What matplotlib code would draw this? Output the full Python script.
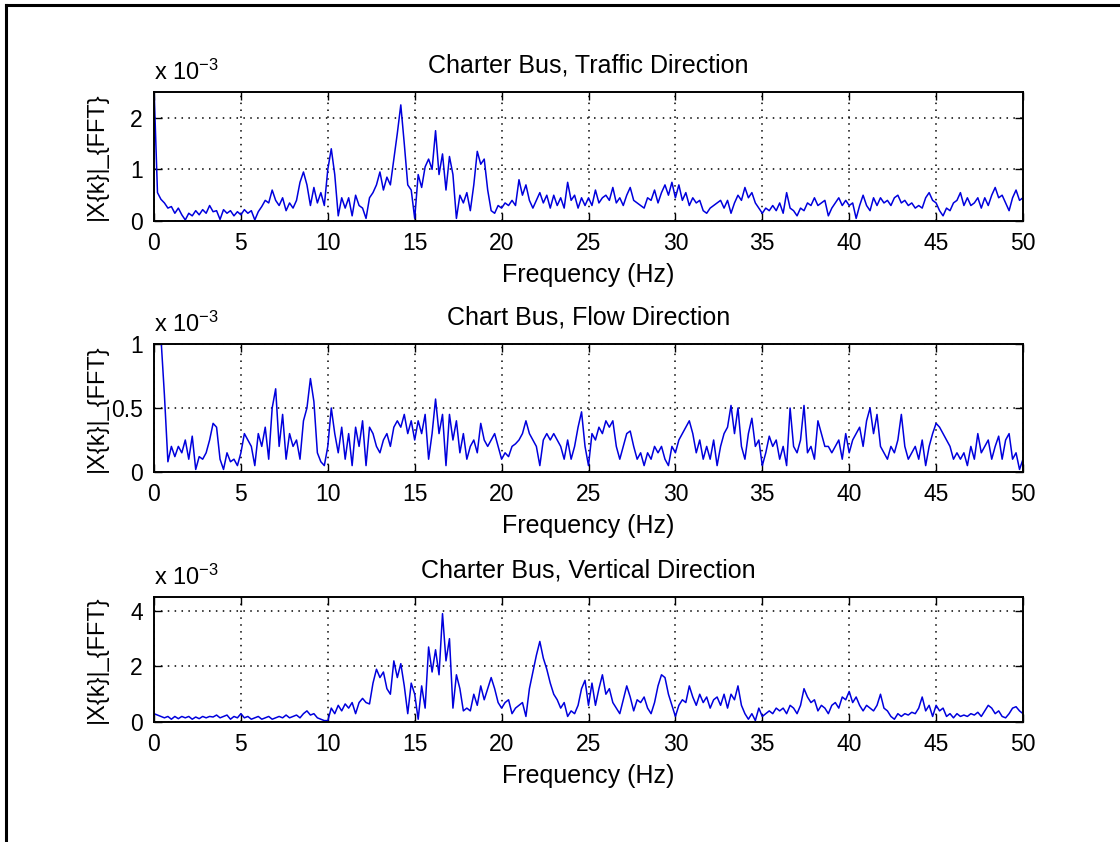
import numpy as np
import matplotlib
matplotlib.use("Agg")
import matplotlib.pyplot as plt
from matplotlib.lines import Line2D

plt.rcParams['font.family'] = ['Liberation Sans', 'DejaVu Sans']
plt.rcParams['mathtext.fontset'] = 'custom'
plt.rcParams['mathtext.rm'] = 'Liberation Sans'
plt.rcParams['mathtext.it'] = 'Liberation Sans'

# frequency axis, 0.2 Hz steps (Hz)
freq = np.linspace(0, 50, 251)

# |X(k)| values, in units of 1e-3
traffic = [
    2.6, 0.55, 0.42, 0.35, 0.25, 0.28, 0.15, 0.25, 0.12, 0.02,
    0.15, 0.10, 0.20, 0.12, 0.22, 0.15, 0.30, 0.18, 0.20, 0.03,
    0.22, 0.15, 0.20, 0.10, 0.18, 0.12, 0.22, 0.15, 0.20, 0.02,
    0.18, 0.28, 0.40, 0.35, 0.60, 0.40, 0.30, 0.45, 0.20, 0.35,
    0.25, 0.40, 0.75, 0.95, 0.70, 0.30, 0.65, 0.35, 0.55, 0.30,
    1.00, 1.40, 0.90, 0.10, 0.45, 0.25, 0.45, 0.10, 0.50, 0.30,
    0.25, 0.05, 0.45, 0.55, 0.70, 0.95, 0.60, 0.85, 0.70, 1.20,
    1.70, 2.25, 1.50, 0.70, 0.60, 0.05, 0.90, 0.65, 1.05, 1.20,
    1.00, 1.75, 0.90, 1.30, 0.60, 1.25, 0.90, 0.05, 0.50, 0.35,
    0.55, 0.20, 0.70, 1.35, 1.10, 1.20, 0.60, 0.20, 0.15, 0.30,
    0.25, 0.35, 0.30, 0.40, 0.30, 0.80, 0.50, 0.70, 0.40, 0.25,
    0.40, 0.55, 0.35, 0.50, 0.25, 0.50, 0.30, 0.45, 0.25, 0.75,
    0.40, 0.50, 0.25, 0.45, 0.30, 0.45, 0.30, 0.60, 0.35, 0.45,
    0.50, 0.40, 0.65, 0.35, 0.45, 0.30, 0.50, 0.65, 0.40, 0.35,
    0.30, 0.25, 0.45, 0.40, 0.60, 0.35, 0.55, 0.70, 0.50, 0.75,
    0.45, 0.70, 0.40, 0.55, 0.30, 0.45, 0.35, 0.40, 0.20, 0.15,
    0.25, 0.30, 0.35, 0.40, 0.25, 0.40, 0.15, 0.35, 0.50, 0.40,
    0.65, 0.45, 0.55, 0.35, 0.25, 0.15, 0.25, 0.20, 0.30, 0.20,
    0.35, 0.15, 0.55, 0.25, 0.20, 0.10, 0.25, 0.20, 0.35, 0.30,
    0.45, 0.30, 0.35, 0.40, 0.10, 0.25, 0.35, 0.45, 0.30, 0.40,
    0.30, 0.35, 0.05, 0.30, 0.50, 0.30, 0.20, 0.45, 0.30, 0.45,
    0.35, 0.40, 0.30, 0.45, 0.50, 0.35, 0.40, 0.30, 0.35, 0.25,
    0.30, 0.25, 0.45, 0.55, 0.40, 0.35, 0.20, 0.10, 0.25, 0.20,
    0.35, 0.40, 0.55, 0.30, 0.45, 0.30, 0.35, 0.45, 0.25, 0.45,
    0.30, 0.50, 0.65, 0.45, 0.50, 0.35, 0.20, 0.45, 0.60, 0.40,
    0.45,
]

flow = [
    1.50, 1.30, 1.05, 0.60, 0.08, 0.20, 0.12, 0.20, 0.15, 0.25,
    0.10, 0.28, 0.02, 0.12, 0.10, 0.15, 0.25, 0.38, 0.35, 0.10,
    0.02, 0.15, 0.08, 0.10, 0.05, 0.15, 0.30, 0.25, 0.20, 0.05,
    0.30, 0.20, 0.35, 0.10, 0.50, 0.65, 0.20, 0.45, 0.10, 0.30,
    0.20, 0.25, 0.10, 0.40, 0.50, 0.73, 0.55, 0.15, 0.08, 0.05,
    0.20, 0.50, 0.30, 0.15, 0.35, 0.10, 0.30, 0.05, 0.35, 0.20,
    0.40, 0.05, 0.35, 0.30, 0.20, 0.15, 0.25, 0.30, 0.20, 0.35,
    0.40, 0.35, 0.45, 0.30, 0.40, 0.25, 0.40, 0.30, 0.45, 0.10,
    0.30, 0.57, 0.30, 0.45, 0.05, 0.45, 0.25, 0.40, 0.15, 0.30,
    0.10, 0.20, 0.25, 0.15, 0.38, 0.25, 0.20, 0.25, 0.30, 0.20,
    0.10, 0.15, 0.12, 0.20, 0.22, 0.25, 0.30, 0.40, 0.30, 0.25,
    0.20, 0.05, 0.25, 0.30, 0.25, 0.30, 0.25, 0.20, 0.10, 0.25,
    0.10, 0.20, 0.35, 0.47, 0.20, 0.05, 0.30, 0.25, 0.35, 0.30,
    0.40, 0.35, 0.40, 0.20, 0.10, 0.20, 0.30, 0.32, 0.20, 0.10,
    0.15, 0.05, 0.15, 0.10, 0.20, 0.15, 0.20, 0.10, 0.05, 0.20,
    0.15, 0.25, 0.30, 0.35, 0.40, 0.30, 0.15, 0.25, 0.10, 0.20,
    0.10, 0.25, 0.05, 0.20, 0.30, 0.35, 0.52, 0.30, 0.50, 0.20,
    0.10, 0.30, 0.42, 0.20, 0.25, 0.05, 0.15, 0.28, 0.20, 0.25,
    0.10, 0.20, 0.05, 0.50, 0.20, 0.15, 0.25, 0.52, 0.15, 0.20,
    0.10, 0.40, 0.30, 0.20, 0.20, 0.15, 0.20, 0.25, 0.10, 0.30,
    0.15, 0.25, 0.30, 0.35, 0.20, 0.40, 0.50, 0.30, 0.45, 0.20,
    0.15, 0.10, 0.20, 0.15, 0.25, 0.45, 0.20, 0.10, 0.15, 0.20,
    0.10, 0.25, 0.05, 0.20, 0.30, 0.38, 0.35, 0.30, 0.25, 0.20,
    0.10, 0.15, 0.10, 0.15, 0.05, 0.20, 0.10, 0.30, 0.15, 0.20,
    0.25, 0.10, 0.20, 0.28, 0.10, 0.25, 0.30, 0.10, 0.15, 0.02,
    0.10,
]

vertical = [
    0.30, 0.25, 0.20, 0.15, 0.20, 0.10, 0.20, 0.12, 0.20, 0.15,
    0.20, 0.10, 0.18, 0.12, 0.20, 0.15, 0.20, 0.18, 0.25, 0.15,
    0.20, 0.25, 0.10, 0.20, 0.15, 0.30, 0.15, 0.20, 0.10, 0.15,
    0.20, 0.10, 0.15, 0.20, 0.10, 0.15, 0.20, 0.15, 0.25, 0.15,
    0.20, 0.25, 0.15, 0.30, 0.40, 0.25, 0.30, 0.15, 0.10, 0.05,
    0.05, 0.50, 0.30, 0.60, 0.40, 0.65, 0.50, 0.70, 0.30, 0.70,
    0.85, 0.70, 0.65, 1.40, 1.90, 1.60, 1.80, 1.20, 1.00, 2.20,
    1.60, 2.10, 1.30, 0.30, 1.40, 1.00, 0.10, 1.30, 0.50, 2.70,
    1.80, 2.60, 1.70, 3.90, 2.20, 3.00, 0.50, 1.70, 1.20, 0.40,
    0.50, 0.40, 1.00, 0.60, 1.30, 0.80, 1.20, 1.60, 1.20, 0.70,
    0.50, 0.70, 0.80, 0.30, 0.50, 0.60, 0.70, 0.20, 1.20, 1.80,
    2.40, 2.90, 2.30, 1.90, 1.40, 1.00, 0.80, 0.50, 0.70, 0.20,
    0.40, 0.30, 0.60, 1.20, 1.50, 0.60, 1.40, 0.60, 1.20, 1.70,
    1.00, 1.20, 0.70, 0.50, 0.30, 0.80, 1.30, 0.90, 0.40, 0.80,
    0.70, 0.90, 0.50, 0.30, 0.70, 1.30, 1.70, 1.60, 1.00, 0.60,
    0.20, 0.60, 0.80, 0.70, 1.30, 0.90, 0.60, 1.00, 0.70, 0.90,
    0.50, 0.80, 0.90, 0.60, 1.00, 0.50, 1.00, 0.80, 1.30, 0.60,
    0.30, 0.10, 0.30, 0.05, 0.50, 0.20, 0.30, 0.40, 0.30, 0.50,
    0.40, 0.50, 0.30, 0.60, 0.50, 0.30, 0.60, 1.20, 0.90, 0.70,
    0.80, 0.40, 0.60, 0.50, 0.30, 0.60, 0.70, 0.50, 0.90, 0.80,
    1.10, 0.70, 0.90, 0.60, 0.40, 0.60, 0.50, 0.40, 0.60, 1.00,
    0.50, 0.40, 0.20, 0.10, 0.30, 0.20, 0.30, 0.25, 0.35, 0.30,
    0.50, 0.90, 0.40, 0.60, 0.20, 0.60, 0.40, 0.50, 0.20, 0.30,
    0.15, 0.30, 0.20, 0.25, 0.20, 0.30, 0.25, 0.35, 0.20, 0.40,
    0.60, 0.50, 0.30, 0.40, 0.20, 0.15, 0.30, 0.50, 0.55, 0.40,
    0.30,
]

titles = ['Charter Bus, Traffic Direction',
          'Chart Bus, Flow Direction',
          'Charter Bus, Vertical Direction']
series = [traffic, flow, vertical]
ymax = [2.5, 1.0, 4.5]
yticks = [[0, 1, 2], [0, 0.5, 1], [0, 2, 4]]
yticklabels = [['0', '1', '2'], ['0', '0.5', '1'], ['0', '2', '4']]
xticks = list(range(0, 51, 5))

W, H = 1120, 842
left, right = 154, 1023
boxes = [(92, 221), (344, 472), (597, 722)]  # top, bottom in px

fig = plt.figure(figsize=(W / 100, H / 100), dpi=100)

for i in range(3):
    top, bot = boxes[i]
    hpx = bot - top
    ax = fig.add_axes([left / W, 1 - bot / H, (right - left) / W, hpx / H])
    ax.plot(freq, series[i], color='#0000dd', lw=1.1)
    ax.set_xlim(0, 50)
    ax.set_ylim(0, ymax[i])
    ax.set_xticks(xticks)
    ax.set_yticks(yticks[i])
    ax.set_yticklabels(yticklabels[i])
    ax.grid(True, color='k', linestyle=(0, (1, 3.5)), linewidth=1.1)
    ax.tick_params(direction='in', top=True, right=True, length=6, width=1,
                   labelsize=16.5, pad=8)
    for sp in ax.spines.values():
        sp.set_linewidth(1.4)
    ax.set_title(titles[i], fontsize=18, pad=14)
    ax.set_xlabel('Frequency (Hz)', fontsize=18)
    ax.xaxis.set_label_coords(0.5, -42 / hpx)
    ax.set_ylabel('|X{k}|_{FFT}', fontsize=17)
    ax.yaxis.set_label_coords(-46 / (right - left), 0.5)
    ax.annotate('x 10$^{-3}$', xy=(0, 1), xycoords='axes fraction',
                xytext=(0, 9), textcoords='offset points',
                ha='left', va='baseline', fontsize=17)

# frame lines at left and top edge of the picture
fig.add_artist(Line2D([6 / W, 6 / W], [0, 1 - 5 / H], transform=fig.transFigure,
                      color='k', lw=2.2))
fig.add_artist(Line2D([6 / W, 1], [1 - 5 / H, 1 - 5 / H], transform=fig.transFigure,
                      color='k', lw=2.2))

fig.savefig('out.png', dpi=100)
